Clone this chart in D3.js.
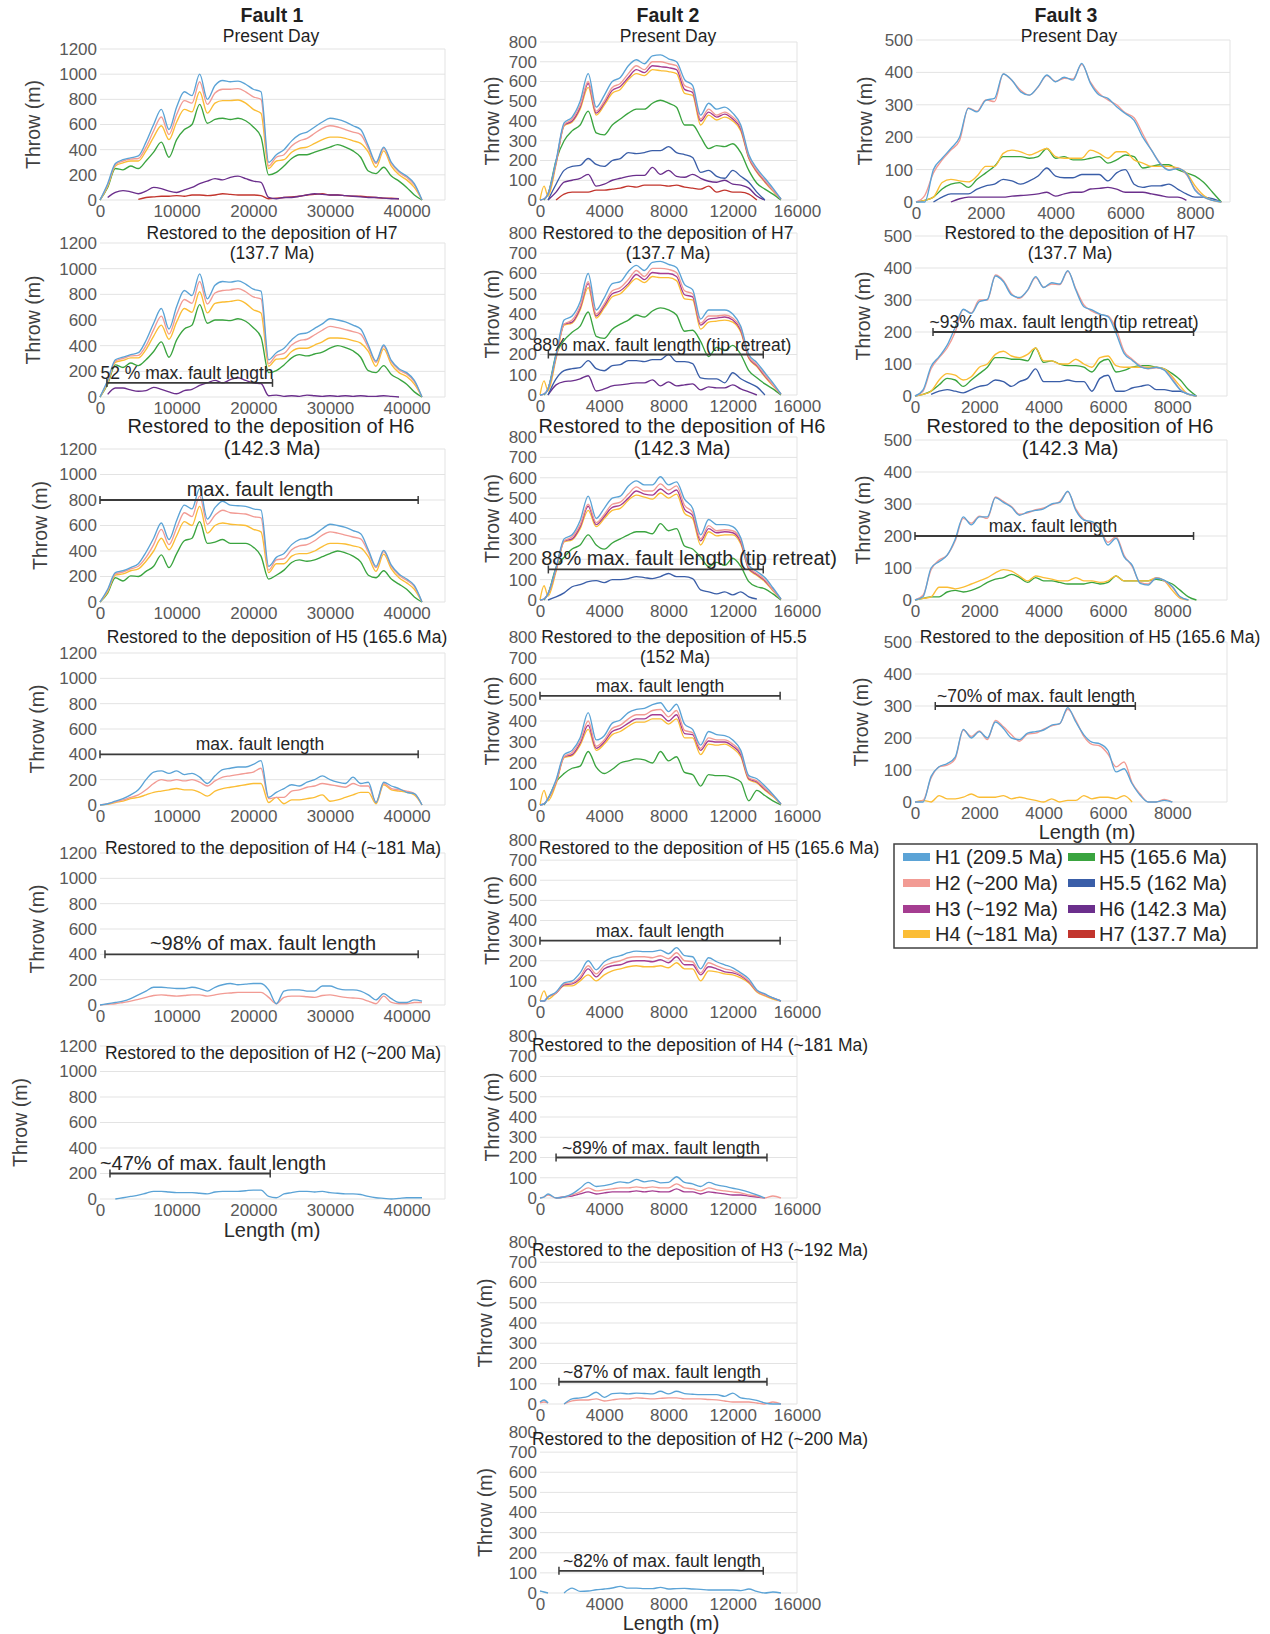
<!DOCTYPE html>
<html>
<head>
<meta charset="utf-8">
<script src="https://cdn.jsdelivr.net/npm/d3@7"></script>
<style>
  body { margin: 0; background: #fff; }
  svg { display: block; font-family: "Liberation Sans", Arial, sans-serif; }
</style>
</head>
<body>
<svg id="chart" width="1270" height="1634"></svg>
<script>
// ---- horizons / legend ----
var horizonNames = ["H1", "H2", "H3", "H4", "H5", "H5.5", "H6", "H7"];
var horizonLabels = ["H1 (209.5 Ma)", "H2 (~200 Ma)", "H3 (~192 Ma)", "H4 (~181 Ma)",
                     "H5 (165.6 Ma)", "H5.5 (162 Ma)", "H6 (142.3 Ma)", "H7 (137.7 Ma)"];
var horizonColors = ["#5ba3d6", "#f29b94", "#a53d91", "#fbbd35", "#3aa43f", "#3a5ea8", "#6b2f8c", "#c2352d"];

// ---- Fault 1 (length in m, throw in m) ----
var f1Length = [0,1000,2000,3000,4000,5000,6000,7000,8000,9000,10000,11000,12000,13000,14000,15000,16000,17000,18000,19000,20000,21000,22000,23000,24000,25000,26000,27000,28000,29000,30000,31000,32000,33000,34000,35000,36000,37000,38000,39000,40000,41000,42000];
var f1YTicks = [0,200,400,600,800,1000,1200];
var f1XTicks = [0,10000,20000,30000,40000];

var f1PresentH1 = [0,130,290,320,335,350,460,600,720,560,740,860,830,1000,800,910,950,940,945,920,880,860,300,360,400,470,520,540,580,620,650,640,620,590,560,430,300,420,300,230,190,130,0];
var f1PresentH2 = [0,120,280,310,325,330,420,550,660,520,680,790,770,940,760,850,880,880,885,860,820,800,270,340,360,430,470,490,530,570,590,580,560,540,520,410,290,410,290,220,180,120,0];
var f1PresentH4 = [0,110,270,295,310,310,390,500,590,480,620,720,700,860,690,770,790,790,795,770,720,690,250,310,320,380,410,420,450,480,500,500,490,470,450,380,260,390,270,200,160,100,0];
var f1PresentH5 = [0,100,250,240,270,250,310,380,460,340,480,560,600,760,610,640,650,640,650,630,580,500,200,220,270,330,360,360,380,400,420,440,420,390,340,230,210,260,190,150,100,40,0];
var f1PresentH6 = [null,20,60,75,65,50,70,100,90,70,60,80,100,130,150,170,160,180,190,170,150,140,20,10,20,20,30,40,50,45,40,40,35,30,25,20,20,15,10,10,null,null,null];
var f1PresentH7 = [null,null,null,null,null,5,20,25,30,30,35,30,40,40,35,40,50,45,40,40,40,35,10,15,20,25,30,40,45,50,40,40,35,30,30,25,20,15,15,10,null,null,null];

var f1H7H1 = [0,130,290,310,330,345,440,575,690,530,705,830,790,960,765,870,900,895,905,880,840,825,290,345,380,445,490,500,535,570,610,600,585,560,530,405,280,405,285,220,190,130,0];
var f1H7H2 = [0,120,280,300,320,325,400,525,630,490,645,760,730,900,725,810,830,835,845,820,780,765,260,325,340,405,440,450,485,520,550,540,525,510,490,385,270,395,275,210,180,120,0];
var f1H7H4 = [0,110,270,285,305,305,370,475,560,450,585,690,660,820,655,730,740,745,755,730,680,655,240,295,300,355,380,380,405,430,460,460,455,440,420,355,240,375,255,190,160,100,0];
var f1H7H5 = [0,100,250,230,265,245,290,355,430,310,445,530,560,720,575,600,600,595,610,590,540,465,190,205,250,305,330,320,335,350,380,400,385,360,310,205,190,245,175,140,100,40,0];
var f1H7H6 = [null,20,70,70,55,45,50,75,60,40,25,50,60,90,110,130,110,135,150,130,110,105,10,15,5,10,5,15,10,5,10,5,10,5,10,5,5,10,5,0,null,null,null];

var f1H6H1 = [0,100,230,245,270,300,390,500,620,490,640,760,730,890,650,740,790,760,755,750,730,720,280,350,380,450,490,500,530,575,610,600,585,560,535,410,280,405,290,220,180,130,0];
var f1H6H2 = [0,90,220,235,260,280,350,450,570,450,580,700,670,830,610,680,720,700,695,690,670,660,250,330,340,410,440,450,480,525,550,540,525,510,495,390,270,395,280,210,170,120,0];
var f1H6H4 = [0,80,210,220,245,260,320,400,500,410,520,630,600,750,540,600,620,610,605,600,570,550,230,300,300,360,380,380,400,435,460,460,455,440,425,355,240,375,260,190,150,100,0];
var f1H6H5 = [0,70,190,165,205,200,240,280,370,270,380,480,500,630,460,470,490,460,460,460,430,360,180,210,250,310,330,320,330,355,380,400,385,360,315,210,190,245,180,140,100,40,0];

var f1H5H1 = [0,10,30,50,80,120,200,260,270,250,270,240,250,220,170,230,280,290,300,300,320,350,60,100,130,160,150,180,200,230,200,180,170,220,170,180,20,180,150,130,100,90,0];
var f1H5H2 = [0,10,25,40,60,80,120,170,200,190,200,190,200,180,150,190,220,230,240,250,260,290,50,60,60,110,120,140,150,170,160,150,140,170,150,150,20,170,130,120,110,90,0];
var f1H5H4 = [0,5,20,30,50,60,80,100,110,120,130,120,120,100,70,110,130,140,150,160,170,170,20,60,10,40,40,50,60,80,30,40,60,80,100,100,10,160,120,110,100,80,0];

var f1H4H1 = [0,10,20,30,50,80,110,140,140,135,130,130,140,130,110,140,160,170,160,165,170,170,120,10,110,120,120,110,110,150,150,130,120,120,110,80,40,90,50,20,20,40,30];
var f1H4H2 = [0,5,10,20,30,45,60,75,80,75,70,75,80,80,70,80,90,95,100,100,100,100,60,10,60,70,70,65,60,75,80,70,60,55,50,30,10,70,20,10,10,20,20];

var f1H2H1 = [null,null,0,10,20,30,45,60,60,55,50,50,50,45,40,55,60,60,60,65,70,70,20,10,40,50,60,60,55,60,50,45,40,40,35,20,10,5,0,5,10,10,10];

// annotation bars: [start m, end m, throw level m]
var f1Bars = [null, [900,22500,110], [0,41500,800], [0,41500,400], [650,41500,400], [1300,22200,200]];
var f1BarText = [null, "52 % max. fault length", "max. fault length", "max. fault length",
                 "~98% of max. fault length", "~47% of max. fault length"];

// ---- Fault 2 ----
var f2Length = [0,250,500,1000,1500,2000,2500,3000,3500,4000,4500,5000,5500,6000,6500,7000,7500,8000,8500,9000,9500,10000,10500,11000,11500,12000,12500,13000,13500,14000,14500,15000];
var f2YTicks = [0,100,200,300,400,500,600,700,800];
var f2XTicks = [0,4000,8000,12000,16000];

var f2PresentH1 = [0,5,30,200,390,420,500,640,470,530,600,620,680,710,690,730,735,715,700,610,580,430,490,460,470,440,380,230,160,110,60,5];
var f2PresentH2 = [0,5,30,190,380,410,480,600,450,500,570,590,640,680,660,700,700,690,680,580,560,410,460,430,445,420,370,220,150,100,50,5];
var f2PresentH3 = [0,5,30,190,380,400,470,590,440,490,555,575,620,660,645,680,675,670,660,560,545,400,445,420,435,410,360,215,145,95,50,5];
var f2PresentH4 = [0,70,20,180,375,395,460,570,430,480,540,560,610,640,630,660,655,650,640,540,530,380,430,405,420,400,350,210,140,90,45,5];
var f2PresentH5 = [null,0,30,200,300,350,380,450,340,330,380,410,440,460,460,490,505,490,470,380,380,320,260,275,270,285,240,150,85,55,30,0];
var f2PresentH55 = [null,null,0,80,150,170,175,210,180,170,200,210,240,235,240,250,250,270,240,230,215,140,150,120,110,150,120,90,40,0,null,null];
var f2PresentH6 = [null,null,0,40,90,100,110,130,70,80,100,110,120,125,125,165,130,150,120,115,130,110,95,90,100,80,75,60,20,0,null,null];
var f2PresentH7 = [null,null,null,0,30,40,40,40,50,50,55,60,70,65,75,75,75,70,75,65,60,55,70,40,50,40,40,30,0,null,null,null];

var f2H7H1 = [0,5,30,200,370,390,460,600,420,480,550,560,610,640,615,655,660,645,630,545,520,375,420,420,420,400,340,200,160,110,60,5];
var f2H7H2 = [0,5,30,190,350,370,440,560,400,450,515,530,570,615,585,625,625,620,605,515,500,355,390,390,395,380,330,190,150,100,50,5];
var f2H7H3 = [0,5,30,190,350,360,430,550,390,440,500,515,550,595,570,605,600,600,585,495,485,345,375,380,385,370,320,185,145,95,50,5];
var f2H7H4 = [0,70,20,180,345,355,420,530,380,430,485,500,540,575,555,585,580,580,565,475,470,325,360,365,370,360,310,180,140,90,45,5];
var f2H7H5 = [null,0,30,200,270,310,340,410,290,280,325,350,370,395,385,415,430,420,395,315,320,265,190,235,220,245,200,120,85,55,30,0];
var f2H7H55 = [null,null,0,80,120,130,135,170,130,120,145,150,170,170,165,175,175,200,165,165,155,85,80,80,60,110,80,60,40,0,null,null];
var f2H7H6 = [null,null,0,50,66,70,80,95,20,30,45,50,55,60,60,75,45,65,45,50,55,25,40,35,35,50,30,15,0,null,null,null];

var f2H6H1 = [0,5,30,160,300,320,390,510,400,450,500,510,560,585,565,565,605,565,580,495,450,320,395,370,370,360,305,170,140,110,60,5];
var f2H6H2 = [0,5,30,150,290,310,370,470,380,420,470,480,520,555,535,535,570,540,560,465,430,300,365,340,345,340,295,160,130,100,50,5];
var f2H6H3 = [0,5,30,150,290,300,360,460,370,410,455,465,500,535,520,515,545,520,540,445,415,290,350,330,335,330,285,155,125,95,50,5];
var f2H6H4 = [0,70,20,140,285,295,350,440,360,400,440,450,490,515,505,495,525,500,520,425,400,270,335,315,320,320,275,150,120,90,45,5];
var f2H6H5 = [null,0,30,160,210,250,270,320,270,250,280,300,320,335,335,325,375,340,350,265,250,210,165,185,170,205,165,90,65,55,30,0];
var f2H6H55 = [null,null,0,15,35,65,75,90,95,85,100,100,105,115,110,105,115,130,115,115,105,50,40,30,40,25,40,15,5,null,null,null];

var f2H55H1 = [0,5,30,120,240,260,320,440,310,330,390,405,440,455,460,478,487,445,480,385,360,285,350,335,330,310,260,140,125,90,50,5];
var f2H55H2 = [0,5,30,110,230,250,305,400,280,310,365,380,410,430,430,450,455,420,450,355,345,270,320,310,310,290,250,130,115,80,45,5];
var f2H55H3 = [0,5,30,110,230,240,295,380,270,300,350,365,390,410,410,430,430,400,430,340,335,260,305,300,300,280,240,125,110,75,45,5];
var f2H55H4 = [0,70,20,100,225,235,285,360,260,290,335,350,375,395,395,410,410,385,410,320,320,240,290,285,290,270,230,120,105,70,40,5];
var f2H55H5 = [null,0,30,110,150,175,185,255,180,150,170,200,210,220,215,200,255,210,230,155,145,90,145,140,140,130,110,20,70,45,20,0];

var f2H5H1 = [0,0,20,45,90,100,140,200,155,195,215,225,240,248,245,245,253,235,265,225,220,160,215,195,180,165,140,110,55,35,15,0];
var f2H5H2 = [0,0,20,40,85,90,120,175,135,175,190,200,215,220,220,215,225,210,240,200,195,140,190,175,160,150,130,100,50,30,15,0];
var f2H5H3 = [0,0,20,40,80,85,110,160,120,160,175,180,195,200,200,195,205,190,220,180,180,130,170,160,145,140,125,95,50,30,15,0];
var f2H5H4 = [0,50,10,40,75,75,100,130,100,130,150,160,170,175,170,170,175,165,190,160,160,100,150,145,135,130,115,90,45,25,10,0];

var f2H4H1 = [0,5,20,0,5,20,48,77,57,61,70,80,75,92,80,86,75,77,105,77,70,57,77,65,57,48,40,29,15,0,null,null];
var f2H4H2 = [0,5,15,0,5,15,30,50,35,40,45,50,50,55,50,55,50,50,70,50,45,35,50,40,35,30,25,15,10,0,10,0];
var f2H4H3 = [null,null,null,0,5,10,20,30,20,25,30,30,30,35,30,35,30,30,45,30,30,20,30,25,20,15,15,10,5,0,null,null];

var f2H3H1 = [10,20,5,null,0,25,30,38,58,33,51,54,50,54,52,50,63,50,63,51,48,46,46,46,38,54,30,25,18,5,0,0];
var f2H3H2 = [5,10,5,null,0,15,20,20,25,15,20,25,25,30,28,25,28,30,30,25,25,25,22,20,15,10,10,10,5,0,10,0];

var f2H2H1 = [10,5,0,null,0,24,8,10,16,20,25,33,24,24,22,22,28,20,22,23,20,18,15,15,15,15,12,20,8,0,5,0];

var f2Bars = [null, [520,13900,200], [520,13900,150], [0,14950,520], [0,14950,300], [1000,14130,200], [1180,14130,110], [1180,13900,110]];
var f2BarText = [null, "88% max. fault length (tip retreat)", "88% max. fault length (tip retreat)",
                 "max. fault length", "max. fault length", "~89% of max. fault length",
                 "~87% of max. fault length", "~82% of max. fault length"];

// ---- Fault 3 ----
var f3Length = [0,250,500,750,1000,1250,1500,1750,2000,2250,2500,2750,3000,3250,3500,3750,4000,4250,4500,4750,5000,5250,5500,5750,6000,6250,6500,6750,7000,7250,7500,7750,8000,8250,8500,8750];
var f3YTicks = [0,100,200,300,400,500];
var f3XTicks = [0,2000,4000,6000,8000];

var f3PresentH1 = [0,0,100,135,165,200,289,278,314,320,395,376,340,330,356,392,371,385,376,428,366,330,320,294,273,252,200,160,118,98,103,88,36,15,5,0];
var f3PresentH2 = [0,20,90,130,160,190,290,280,315,310,395,375,345,330,355,390,372,382,380,425,370,335,315,300,275,260,210,160,120,100,105,85,40,15,5,0];
var f3PresentH4 = [0,5,15,60,70,65,62,80,110,110,150,160,155,145,155,165,140,135,135,135,160,150,135,155,155,130,120,110,110,110,105,90,50,20,5,0];
var f3PresentH5 = [0,5,15,40,55,60,45,70,90,110,140,140,140,135,140,165,135,140,130,130,135,140,120,130,145,140,105,110,115,115,100,90,80,60,30,0];
var f3PresentH55 = [null,null,0,15,25,25,25,40,50,55,70,65,55,65,80,105,80,75,75,85,85,85,65,90,100,55,45,50,50,55,40,25,15,15,10,0];
var f3PresentH6 = [null,null,null,null,0,10,15,15,15,15,15,18,20,22,25,30,18,25,30,30,40,42,45,40,30,30,30,25,20,15,15,5,null,null,null,null];

var f3H7H1 = [0,19,92,123,159,215,271,258,295,302,375,357,316,308,331,373,339,354,350,392,331,279,269,256,248,196,133,112,92,86,90,81,50,19,6,0];
var f3H7H2 = [0,15,85,120,150,200,270,260,300,300,378,360,320,305,330,370,340,350,348,390,335,285,265,255,250,210,140,115,95,85,88,82,55,20,6,0];
var f3H7H4 = [0,5,15,50,70,65,50,60,90,100,130,140,125,120,130,150,110,110,100,100,115,100,90,120,125,95,90,90,90,90,90,85,60,30,5,0];
var f3H7H5 = [0,5,15,35,55,50,30,50,70,90,120,120,115,115,110,150,105,110,100,95,95,90,75,105,115,75,80,90,95,95,90,85,70,50,20,0];
var f3H7H55 = [null,null,5,15,20,15,10,20,30,35,50,45,30,45,55,85,45,45,45,50,45,45,15,55,65,15,15,25,30,35,20,20,15,15,5,0];

var f3H6H1 = [0,10,100,120,140,190,260,235,260,260,320,305,290,265,275,280,285,300,305,340,280,250,245,220,172,193,135,109,52,47,68,62,42,10,0,null];
var f3H6H2 = [0,15,95,125,140,185,255,240,262,255,322,308,292,268,272,282,288,298,308,338,285,252,240,222,180,198,140,105,55,50,70,60,40,8,0,null];
var f3H6H4 = [0,5,10,40,40,35,40,50,60,70,85,95,90,75,60,75,70,65,60,60,70,60,60,55,60,75,60,60,60,60,70,60,30,5,0,null];
var f3H6H5 = [0,5,10,10,25,30,25,30,40,55,65,70,80,70,55,70,60,60,55,50,50,50,55,50,55,75,60,60,60,60,65,60,50,30,10,0];

var f3H5H1 = [0,0,80,110,120,140,227,200,220,200,250,230,200,195,215,220,225,240,245,295,250,210,187,182,161,94,104,57,21,0,0,5,0,null,null,null];
var f3H5H2 = [0,5,75,110,115,135,225,205,222,195,255,235,210,190,212,215,228,238,245,290,255,205,180,175,150,110,125,60,25,0,0,8,0,null,null,null];
var f3H5H4 = [0,5,0,20,10,10,15,25,15,15,15,20,10,15,10,5,0,10,0,5,5,20,10,15,15,10,20,0,null,null,null,null,null,null,null,null];

var f3Bars = [null, [560,8660,200], [0,8660,200], [630,6850,300]];
var f3BarText = [null, "~93% max. fault length (tip retreat)", "max. fault length", "~70% of max. fault length"];

// ---- layout ----
var svg = d3.select("#chart");
var colorScale = d3.scaleOrdinal().domain(horizonNames).range(horizonColors);

var faults = [
  { length: f1Length, yTicks: f1YTicks, xTicks: f1XTicks, yMax: 1200,
    xMax: 45000, left: 100, right: 445, bars: f1Bars, barText: f1BarText,
    boxes: [[49,200],[243,397],[449,602],[653,805],[853,1005],[1046,1199]],
    yTitleX: [33,33,40,37,37,20],
    barFont: [0,17.5,20,17.5,20,20], barTextX: [0,187,260,260,263,213],
    series: [
      [["H1",f1PresentH1],["H2",f1PresentH2],["H4",f1PresentH4],["H5",f1PresentH5],["H6",f1PresentH6],["H7",f1PresentH7]],
      [["H1",f1H7H1],["H2",f1H7H2],["H4",f1H7H4],["H5",f1H7H5],["H6",f1H7H6]],
      [["H1",f1H6H1],["H2",f1H6H2],["H4",f1H6H4],["H5",f1H6H5]],
      [["H1",f1H5H1],["H2",f1H5H2],["H4",f1H5H4]],
      [["H1",f1H4H1],["H2",f1H4H2]],
      [["H1",f1H2H1]]
    ],
    titles: [
      [["Fault 1",272,22,19.5,"bold"],["Present Day",271,42,17.5]],
      [["Restored to the deposition of H7",272,239,17.5],["(137.7 Ma)",272,259,17.5]],
      [["Restored to the deposition of H6",271,433,20],["(142.3 Ma)",272,455,20]],
      [["Restored to the deposition of H5 (165.6 Ma)",277,643,17.5]],
      [["Restored to the deposition of H4 (~181 Ma)",273,854,17.5]],
      [["Restored to the deposition of H2 (~200 Ma)",273,1059,17.5]]
    ],
    xTitle: [272,1237] },
  { length: f2Length, yTicks: f2YTicks, xTicks: f2XTicks, yMax: 800,
    xMax: 16000, left: 540, right: 797, bars: f2Bars, barText: f2BarText,
    boxes: [[42,200],[233,395],[437,600],[637,805],[840,1001],[1036,1198],[1242,1404],[1432,1593]],
    yTitleX: [492,492,492,492,492,492,485,485],
    barFont: [0,17.5,20,17.5,17.5,17.5,17.5,17.5], barTextX: [0,662,689,660,660,661,662,662],
    series: [
      [["H1",f2PresentH1],["H2",f2PresentH2],["H3",f2PresentH3],["H4",f2PresentH4],["H5",f2PresentH5],["H5.5",f2PresentH55],["H6",f2PresentH6],["H7",f2PresentH7]],
      [["H1",f2H7H1],["H2",f2H7H2],["H3",f2H7H3],["H4",f2H7H4],["H5",f2H7H5],["H5.5",f2H7H55],["H6",f2H7H6]],
      [["H1",f2H6H1],["H2",f2H6H2],["H3",f2H6H3],["H4",f2H6H4],["H5",f2H6H5],["H5.5",f2H6H55]],
      [["H1",f2H55H1],["H2",f2H55H2],["H3",f2H55H3],["H4",f2H55H4],["H5",f2H55H5]],
      [["H1",f2H5H1],["H2",f2H5H2],["H3",f2H5H3],["H4",f2H5H4]],
      [["H1",f2H4H1],["H2",f2H4H2],["H3",f2H4H3]],
      [["H1",f2H3H1],["H2",f2H3H2]],
      [["H1",f2H2H1]]
    ],
    titles: [
      [["Fault 2",668,22,19.5,"bold"],["Present Day",668,42,17.5]],
      [["Restored to the deposition of H7",668,239,17.5],["(137.7 Ma)",668,259,17.5]],
      [["Restored to the deposition of H6",682,433,20],["(142.3 Ma)",682,455,20]],
      [["Restored to the deposition of H5.5",674,643,17.5],["(152 Ma)",675,663,17.5]],
      [["Restored to the deposition of H5 (165.6 Ma)",709,854,17.5]],
      [["Restored to the deposition of H4 (~181 Ma)",700,1051,17.5]],
      [["Restored to the deposition of H3 (~192 Ma)",700,1256,17.5]],
      [["Restored to the deposition of H2 (~200 Ma)",700,1445,17.5]]
    ],
    xTitle: [671,1630] },
  { length: f3Length, yTicks: f3YTicks, xTicks: f3XTicks, yMax: 500,
    xMax: 9700, left: 915, right: 1227, firstXMax: 9000, firstLeft: 916, firstRight: 1230,
    bars: f3Bars, barText: f3BarText,
    boxes: [[40,202],[236,396],[440,600],[642,802]],
    yTitleX: [865,863,863,861],
    barFont: [0,17.5,17.5,17.5], barTextX: [0,1064,1053,1036],
    series: [
      [["H1",f3PresentH1],["H2",f3PresentH2],["H4",f3PresentH4],["H5",f3PresentH5],["H5.5",f3PresentH55],["H6",f3PresentH6]],
      [["H1",f3H7H1],["H2",f3H7H2],["H4",f3H7H4],["H5",f3H7H5],["H5.5",f3H7H55]],
      [["H1",f3H6H1],["H2",f3H6H2],["H4",f3H6H4],["H5",f3H6H5]],
      [["H1",f3H5H1],["H2",f3H5H2],["H4",f3H5H4]]
    ],
    titles: [
      [["Fault 3",1066,22,19.5,"bold"],["Present Day",1069,42,17.5]],
      [["Restored to the deposition of H7",1070,239,17.5],["(137.7 Ma)",1070,259,17.5]],
      [["Restored to the deposition of H6",1070,433,20],["(142.3 Ma)",1070,455,20]],
      [["Restored to the deposition of H5 (165.6 Ma)",1090,643,17.5]]
    ],
    xTitle: [1087,839] }
];

function drawPanel(f, i) {
  var box = f.boxes[i];
  var xMax = (i === 0 && f.firstXMax) ? f.firstXMax : f.xMax;
  var left = (i === 0 && f.firstLeft) ? f.firstLeft : f.left;
  var right = (i === 0 && f.firstRight) ? f.firstRight : f.right;
  var x = d3.scaleLinear().domain([0, xMax]).range([left, right]);
  var y = d3.scaleLinear().domain([0, f.yMax]).range([box[1], box[0]]);
  var g = svg.append("g");

  // grid
  g.selectAll("line.grid").data(f.yTicks).join("line")
    .attr("class", "grid")
    .attr("x1", left).attr("x2", right)
    .attr("y1", d => y(d)).attr("y2", d => y(d))
    .attr("stroke", "#e3e3e3").attr("stroke-width", 1);
  g.append("line")
    .attr("x1", right).attr("x2", right).attr("y1", y(f.yMax)).attr("y2", y(0))
    .attr("stroke", "#e3e3e3").attr("stroke-width", 1);

  // axes
  var ya = g.append("g").attr("transform", "translate(" + left + ",0)")
    .call(d3.axisLeft(y).tickValues(f.yTicks).tickSize(0).tickPadding(3).tickFormat(d3.format("d")));
  ya.select(".domain").remove();
  ya.attr("font-family", null).attr("font-size", 17);
  ya.selectAll("text").attr("fill", "#595959");

  var xa = g.append("g").attr("transform", "translate(0," + box[1] + ")")
    .call(d3.axisBottom(x).tickValues(f.xTicks).tickSize(0).tickPadding(5).tickFormat(d3.format("d")));
  xa.select(".domain").remove();
  xa.attr("font-family", null).attr("font-size", 17);
  xa.selectAll("text").attr("fill", "#595959");

  // curves
  var line = d3.line()
    .defined(d => d[1] != null)
    .x(d => x(d[0]))
    .y(d => y(d[1]))
    .curve(d3.curveMonotoneX);
  var ser = f.series[i].slice().reverse();
  g.selectAll("path.curve").data(ser).join("path")
    .attr("class", "curve")
    .attr("fill", "none")
    .attr("stroke", d => colorScale(d[0]))
    .attr("stroke-width", 1.35)
    .attr("d", d => line(f.length.map((v, k) => [v, d[1][k]])));

  // fault length bar
  var b = f.bars[i];
  if (b) {
    var by = y(b[2]);
    g.append("line").attr("x1", x(b[0])).attr("x2", x(b[1])).attr("y1", by).attr("y2", by)
      .attr("stroke", "#3a3a3a").attr("stroke-width", 1.8);
    g.selectAll("line.cap").data([b[0], b[1]]).join("line")
      .attr("class", "cap")
      .attr("x1", d => x(d)).attr("x2", d => x(d)).attr("y1", by - 4).attr("y2", by + 4)
      .attr("stroke", "#3a3a3a").attr("stroke-width", 1.5);
    g.append("text").attr("x", f.barTextX[i]).attr("y", by - 4)
      .attr("text-anchor", "middle").attr("font-size", f.barFont[i]).attr("fill", "#262626")
      .text(f.barText[i]);
  }

  // titles
  f.titles[i].forEach(function (t) {
    g.append("text").attr("x", t[1]).attr("y", t[2]).attr("text-anchor", "middle")
      .attr("font-size", t[3]).attr("font-weight", t[4] || "normal").attr("fill", "#1f1f1f")
      .text(t[0]);
  });

  // y title
  var cy = (box[0] + box[1]) / 2;
  g.append("text")
    .attr("transform", "translate(" + f.yTitleX[i] + "," + cy + ") rotate(-90)")
    .attr("text-anchor", "middle").attr("dy", "0.35em")
    .attr("font-size", 19.5).attr("fill", "#404040")
    .text("Throw (m)");
}

faults.forEach(function (f) {
  f.boxes.forEach(function (b, i) { drawPanel(f, i); });
  svg.append("text").attr("x", f.xTitle[0]).attr("y", f.xTitle[1])
    .attr("text-anchor", "middle").attr("font-size", 20).attr("fill", "#2b2b2b")
    .text("Length (m)");
});

// legend
var leg = svg.append("g");
leg.append("rect").attr("x", 894).attr("y", 844).attr("width", 363).attr("height", 104)
  .attr("fill", "#fff").attr("stroke", "#404040").attr("stroke-width", 1.5);
var legRows = [857, 883, 909, 934];
var legItems = horizonNames.map((h, k) => ({ name: h, label: horizonLabels[k], col: Math.floor(k / 4), row: k % 4 }));
var legCols = [[903, 935], [1068, 1099]];
var li = leg.selectAll("g.item").data(legItems).join("g").attr("class", "item");
li.append("rect")
  .attr("x", d => legCols[d.col][0]).attr("y", d => legRows[d.row] - 4)
  .attr("width", 27).attr("height", 8)
  .attr("fill", d => colorScale(d.name));
li.append("text")
  .attr("x", d => legCols[d.col][1]).attr("y", d => legRows[d.row])
  .attr("dy", "0.35em").attr("font-size", 20).attr("fill", "#262626")
  .text(d => d.label);
</script>
</body>
</html>
